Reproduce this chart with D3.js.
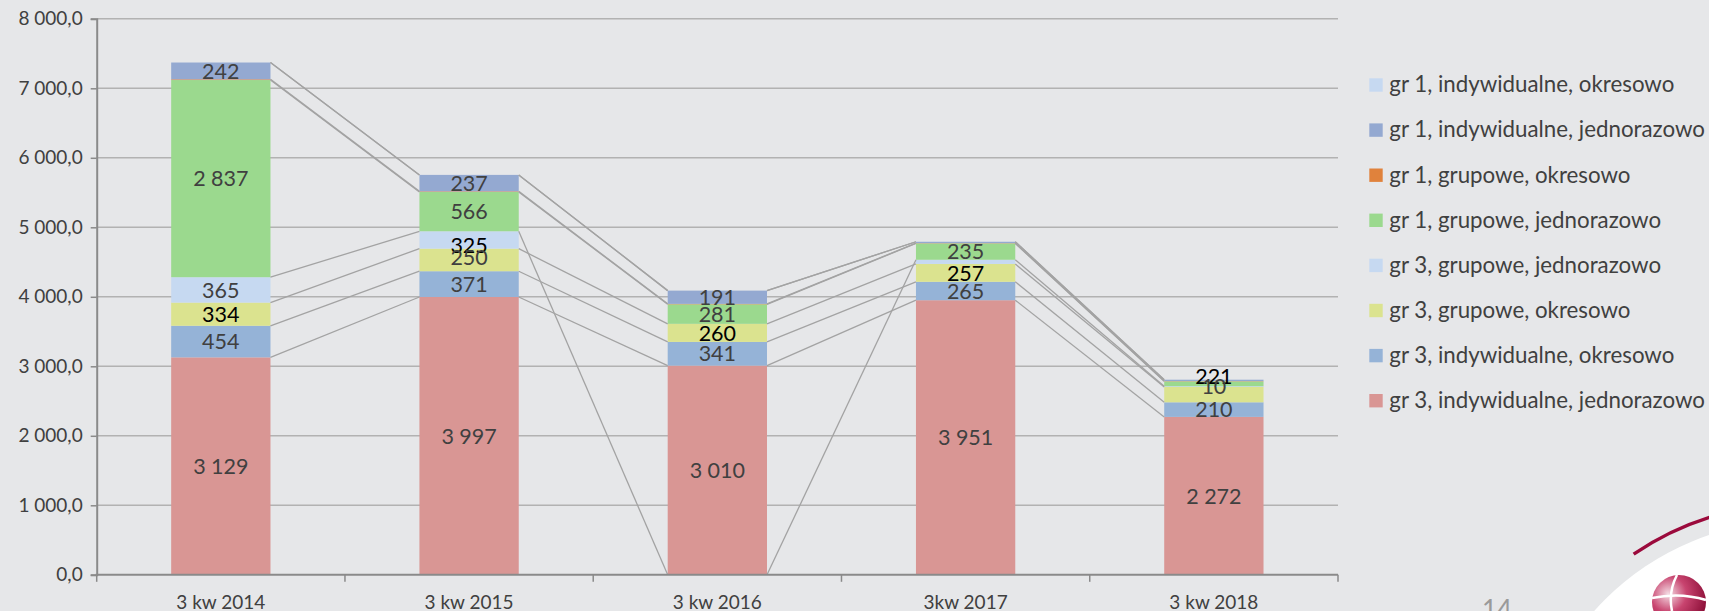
<!DOCTYPE html>
<html>
<head>
<meta charset="utf-8">
<script src="https://cdn.jsdelivr.net/npm/d3@7"></script>
<style>
  html, body { margin:0; padding:0; background:#e6e7e9; }
  svg { display:block; font-family:Lato, "Noto Sans", sans-serif; }
  .grid line { stroke:#b2b2b2; stroke-width:1.4px; }
  .series-line { stroke:#a3a3a3; stroke-width:1.3px; fill:none; }
  .label { font-size:21.5px; fill:#404040; text-anchor:middle; }
  .label.dark { fill:#000; }
  .axis-text { font-size:19px; fill:#404040; }
  .legend text { font-size:22.3px; fill:#404040; }
</style>
</head>
<body>
<div class="canvas"></div>
<script>
/* Data: stacked bars, bottom series first */
var categories = ['3 kw 2014','3 kw 2015','3 kw 2016','3kw 2017','3 kw 2018'];

var seriesKeys = ['g3ij','g3io','g3go','g3gj','g1gj','g1go','g1ij','g1io'];
var seriesNames = [
    'gr 3, indywidualne, jednorazowo',
    'gr 3, indywidualne, okresowo',
    'gr 3, grupowe, okresowo',
    'gr 3, grupowe, jednorazowo',
    'gr 1, grupowe, jednorazowo',
    'gr 1, grupowe, okresowo',
    'gr 1, indywidualne, jednorazowo',
    'gr 1, indywidualne, okresowo'
];

var g3ij = [3129, 3997, 3010, 3951, 2272];
var g3io = [454, 371, 341, 265, 210];
var g3go = [334, 325, 260, 257, 221];
var g3gj = [365, 250, null, 60, 10];
var g1gj = [2837, 566, 281, 235, 70];
var g1go = [10, 8, 6, 4, 4];
var g1ij = [242, 237, 191, 20, 20];
var g1io = [0, 0, 0, 0, 0];

var yTicks = [0, 1000, 2000, 3000, 4000, 5000, 6000, 7000, 8000];

var colors = {
    g3ij:'#d99694', g3io:'#95b3d7', g3go:'#dbe38f', g3gj:'#c6d9f1',
    g1gj:'#9bd98e', g1go:'#e0823c', g1ij:'#94a9d1', g1io:'#c6d9f1'
};

// labels that the slide does not show, and a few that were dragged by hand
var hiddenLabels = ['g1go', 'g1io', 'g3gj:3', 'g1gj:4', 'g1ij:3', 'g1ij:4'];
var labelNudge = {'g3go:1':-15, 'g3gj:1':17, 'g3go:4':-18};

var valuesByKey = {g3ij:g3ij, g3io:g3io, g3go:g3go, g3gj:g3gj, g1gj:g1gj, g1go:g1go, g1ij:g1ij, g1io:g1io};

var rows = categories.map(function(c, i){
    var r = {cat:c, idx:i};
    seriesKeys.forEach(function(k){ r[k] = valuesByKey[k][i]; });
    return r;
});

var canvasWidth = 1709, canvasHeight = 611;
var plot = {l:96.7, r:1338, t:18.8, b:574.8};

var pl = d3.formatLocale({decimal:',', thousands:' ', grouping:[3], currency:['','']});
var fmtAxis = pl.format(',.1f'),
    fmtLabel = pl.format(',.0f');

var x = d3.scaleBand()
    .domain(categories)
    .range([plot.l, plot.r])
    .paddingInner(0.6)
    .paddingOuter(0.3);

var y = d3.scaleLinear()
    .domain([0, 8000])
    .range([plot.b, plot.t]);

var stack = d3.stack()
    .keys(seriesKeys)
    .value(function(d, k){ return d[k] || 0; });
var layers = stack(rows);

var svg = d3.select('.canvas')
    .append('svg')
    .attr('width', canvasWidth)
    .attr('height', canvasHeight);

svg.append('rect')
    .attr('width', canvasWidth)
    .attr('height', canvasHeight)
    .style('fill', '#e6e7e9');

/* gridlines */
svg.append('g')
    .attr('class', 'grid')
    .selectAll('line')
    .data(yTicks.filter(function(t){ return t > 0; }))
    .enter()
    .append('line')
    .attr('x1', plot.l)
    .attr('x2', plot.r)
    .attr('y1', function(d){ return y(d); })
    .attr('y2', function(d){ return y(d); });

/* bars */
var layerG = svg.append('g')
    .selectAll('g')
    .data(layers)
    .enter()
    .append('g')
    .style('fill', function(d){ return colors[d.key]; });

layerG.selectAll('rect')
    .data(function(d){ return d; })
    .enter()
    .append('rect')
    .attr('x', function(d){ return x(d.data.cat); })
    .attr('width', x.bandwidth())
    .attr('y', function(d){ return y(d[1]); })
    .attr('height', function(d){ return y(d[0]) - y(d[1]); });

/* series lines between bars; a missing value drops the line to zero */
var linesG = svg.append('g');
layers.forEach(function(layer){
    for(var i = 0; i < layer.length - 1; i++){
        var a = layer[i], b = layer[i+1];
        var ya = a.data[layer.key] == null ? 0 : a[1],
            yb = b.data[layer.key] == null ? 0 : b[1];
        linesG.append('line')
            .attr('class', 'series-line')
            .attr('x1', x(a.data.cat) + x.bandwidth())
            .attr('y1', y(ya))
            .attr('x2', x(b.data.cat))
            .attr('y2', y(yb));
    }
});

/* y axis */
var yAxis = svg.append('g')
    .attr('transform', 'translate(' + plot.l + ',0)')
    .call(d3.axisLeft(y).tickValues(yTicks).tickSize(6).tickPadding(8).tickFormat(fmtAxis));
yAxis.select('.domain').attr('stroke', '#8a8a8a').attr('stroke-width', 2);
yAxis.selectAll('.tick line').attr('stroke', '#8a8a8a').attr('stroke-width', 1.5);
yAxis.selectAll('text')
    .attr('class', 'axis-text')
    .attr('font-family', null)
    .attr('font-size', null);
yAxis.attr('font-family', null).attr('font-size', null);

/* x axis: line, ticks on band edges, labels under bar centres */
var xAxis = svg.append('g');
xAxis.append('line')
    .attr('x1', plot.l - 1)
    .attr('x2', plot.r)
    .attr('y1', plot.b)
    .attr('y2', plot.b)
    .style('stroke', '#8a8a8a')
    .style('stroke-width', 2);

var edges = categories.map(function(c){ return x(c) - x.step() * x.paddingInner() / 2; });
edges.push(plot.r);
edges[0] = plot.l;
xAxis.selectAll('line.tick')
    .data(edges)
    .enter()
    .append('line')
    .attr('class', 'tick')
    .attr('x1', function(d){ return d; })
    .attr('x2', function(d){ return d; })
    .attr('y1', plot.b)
    .attr('y2', plot.b + 7)
    .style('stroke', '#8a8a8a')
    .style('stroke-width', 1.5);

xAxis.selectAll('text')
    .data(categories)
    .enter()
    .append('text')
    .attr('class', 'axis-text')
    .attr('x', function(d){ return x(d) + x.bandwidth() / 2; })
    .attr('y', 609)
    .attr('text-anchor', 'middle')
    .text(function(d){ return d; });

/* data labels */
var labelG = svg.append('g');
layers.forEach(function(layer){
    layer.forEach(function(d, i){
        var v = d.data[layer.key];
        var id = layer.key + ':' + i;
        if(v == null || hiddenLabels.indexOf(layer.key) > -1 || hiddenLabels.indexOf(id) > -1) return;
        labelG.append('text')
            .attr('class', layer.key === 'g3go' ? 'label dark' : 'label')
            .attr('x', x(d.data.cat) + x.bandwidth() / 2)
            .attr('y', (y(d[0]) + y(d[1])) / 2 + (labelNudge[id] || 0))
            .attr('dy', '0.36em')
            .text(fmtLabel(v));
    });
});

/* legend, top entry = top of the stack */
var legend = svg.append('g')
    .attr('class', 'legend')
    .selectAll('g')
    .data(seriesKeys.slice().reverse())
    .enter()
    .append('g')
    .attr('transform', function(d, i){ return 'translate(1369.3,' + (78.3 + i * 45.1) + ')'; });

legend.append('rect')
    .attr('width', 13.4)
    .attr('height', 13.4)
    .style('fill', function(d){ return colors[d]; });

legend.append('text')
    .attr('x', 20)
    .attr('y', 14)
    .text(function(d){ return seriesNames[seriesKeys.indexOf(d)]; });

/* slide furniture: page number and logo corner */
svg.append('text')
    .attr('x', 1482)
    .attr('y', 619)
    .style('font-size', '26px')
    .style('fill', '#9a9a9a')
    .text('14');

svg.append('circle')
    .attr('cx', 1795)
    .attr('cy', 790)
    .attr('r', 269)
    .style('fill', '#ffffff');

svg.append('path')
    .attr('d', d3.arc()({innerRadius:284, outerRadius:287.5, startAngle:-0.6, endAngle:-0.3}))
    .attr('transform', 'translate(1795,790)')
    .style('fill', '#9b0a3c');

var grad = svg.append('defs')
    .append('radialGradient')
    .attr('id', 'ball')
    .attr('cx', '30%')
    .attr('cy', '35%')
    .attr('r', '75%');
grad.append('stop').attr('offset', '0%').attr('stop-color', '#f4dbe3');
grad.append('stop').attr('offset', '45%').attr('stop-color', '#c8446f');
grad.append('stop').attr('offset', '100%').attr('stop-color', '#8a0d36');

svg.append('circle')
    .attr('cx', 1679)
    .attr('cy', 602)
    .attr('r', 27)
    .style('fill', 'url(#ball)');

svg.append('path')
    .attr('d', 'M1677,575 Q1668,592 1672,611')
    .style('fill', 'none')
    .style('stroke', '#ffffff')
    .style('stroke-width', 2.5);
svg.append('path')
    .attr('d', 'M1652,598 Q1680,592 1706,600')
    .style('fill', 'none')
    .style('stroke', '#ffffff')
    .style('stroke-width', 2.5);
</script>
</body>
</html>
